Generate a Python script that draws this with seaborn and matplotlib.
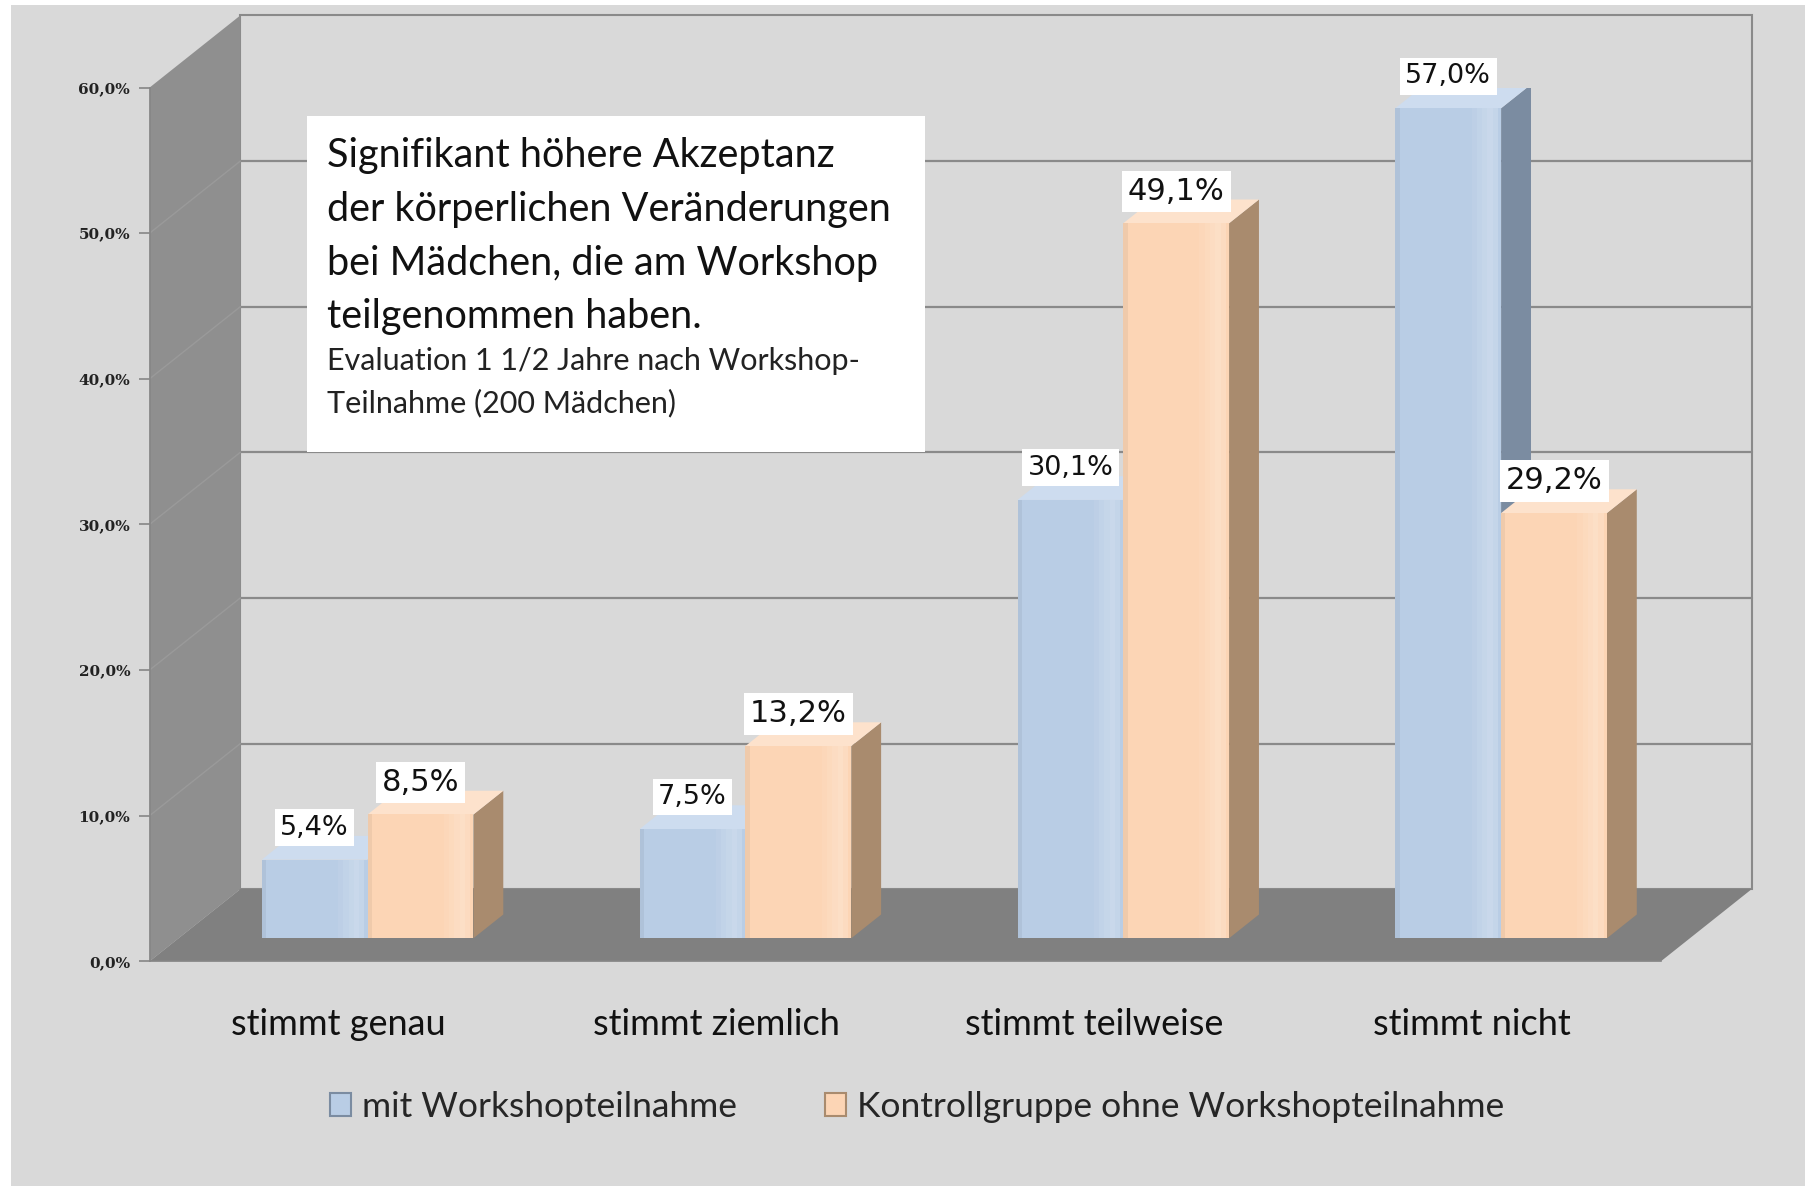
import matplotlib
matplotlib.use("Agg")
import pandas as pd
import matplotlib.pyplot as plt
from matplotlib.patches import Polygon, Rectangle, Patch
import seaborn as sns

# data
categories = ["stimmt genau", "stimmt ziemlich", "stimmt teilweise", "stimmt nicht"]
groups = ["mit Workshopteilnahme", "Kontrollgruppe ohne Workshopteilnahme"]
mit_workshop = [5.4, 7.5, 30.1, 57.0]
kontrollgruppe = [8.5, 13.2, 49.1, 29.2]
y_ticks = [0, 10, 20, 30, 40, 50, 60]
y_ticklabels = ["0,0%", "10,0%", "20,0%", "30,0%", "40,0%", "50,0%", "60,0%"]
note_title = ("Signifikant höhere Akzeptanz\nder körperlichen Veränderungen\n"
              "bei Mädchen, die am Workshop\nteilgenommen haben.")
note_sub = "Evaluation 1 1/2 Jahre nach Workshop-\nTeilnahme (200 Mädchen)"

df = pd.DataFrame({
    "Antwort": categories * 2,
    "Gruppe": [groups[0]] * len(categories) + [groups[1]] * len(categories),
    "Prozent": mit_workshop + kontrollgruppe,
})

sns.set_theme(style="white")
plt.rcParams["font.family"] = ["DejaVu Sans"]
ui_font = ["Lato", "DejaVu Sans"]

bg = "#d9d9d9"
front_col = {groups[0]: "#b9cde5", groups[1]: "#fcd5b5"}
side_col = {groups[0]: "#7b8ca1", groups[1]: "#a98b6e"}
top_col = {groups[0]: "#cddcef", groups[1]: "#fde2cc"}

# 3d look: depth of the room and of the bars (data units)
room_dx, room_dy = 0.24, 4.95
bar_fx, bar_fy = 0.077, 1.58
bar_dx, bar_dy = 0.079, 1.63

fig = plt.figure(figsize=(18.05, 11.86), dpi=100)
fig.patch.set_facecolor("white")
fig.patches.append(Rectangle((0.006, 0), 0.994, 0.996, transform=fig.transFigure,
                             facecolor=bg, edgecolor="none", zorder=-10))
ax = fig.add_axes([0.0829, 0.1895, 0.8373, 0.7367])
ax.set_facecolor("none")

# walls and floor
x0, x1, ytop = -0.5, 3.5, 60
ax.add_patch(Polygon([(x0 + room_dx, room_dy), (x1 + room_dx, room_dy),
                      (x1 + room_dx, ytop + room_dy), (x0 + room_dx, ytop + room_dy)],
                     closed=True, facecolor=bg, edgecolor="#8a8a8a", lw=1.5,
                     clip_on=False, zorder=0))
ax.add_patch(Polygon([(x0, 0), (x0 + room_dx, room_dy), (x0 + room_dx, ytop + room_dy), (x0, ytop)],
                     closed=True, facecolor="#8f8f8f", edgecolor="none", clip_on=False, zorder=0.5))
ax.add_patch(Polygon([(x0, 0), (x1, 0), (x1 + room_dx, room_dy), (x0 + room_dx, room_dy)],
                     closed=True, facecolor="#808080", edgecolor="none", clip_on=False, zorder=0.6))
for v in y_ticks[1:-1]:
    ax.plot([x0 + room_dx, x1 + room_dx], [v + room_dy, v + room_dy], color="#8a8a8a",
            lw=1.6, clip_on=False, zorder=0.4)
    ax.plot([x0, x0 + room_dx], [v, v + room_dy], color="#9a9a9a", lw=1.0,
            clip_on=False, zorder=0.7)

sns.barplot(data=df, x="Antwort", y="Prozent", hue="Gruppe", palette=front_col,
            hue_order=groups, width=0.56, saturation=1, legend=False, ax=ax, zorder=3)

bars = [p for p in ax.patches if isinstance(p, Rectangle) and p.get_height() > 0]
for i, p in enumerate(bars):
    g = groups[i // len(categories)]
    p.set_x(p.get_x() + bar_fx)
    p.set_y(p.get_y() + bar_fy)
    p.set_edgecolor("none")
    bx, by, bw, bh = p.get_x(), p.get_y(), p.get_width(), p.get_height()
    ax.add_patch(Polygon([(bx + bw, by), (bx + bw + bar_dx, by + bar_dy),
                          (bx + bw + bar_dx, by + bh + bar_dy), (bx + bw, by + bh)],
                         closed=True, facecolor=side_col[g], edgecolor="none", zorder=2))
    ax.add_patch(Polygon([(bx, by + bh), (bx + bw, by + bh),
                          (bx + bw + bar_dx, by + bh + bar_dy), (bx + bar_dx, by + bh + bar_dy)],
                         closed=True, facecolor=top_col[g], edgecolor="none", zorder=2))
    # soft highlight towards the right edge of the front face, darker left edge
    for k, a in enumerate([0.06, 0.12, 0.18, 0.24, 0.16]):
        ax.add_patch(Rectangle((bx + bw * (0.72 + 0.05 * k), by), bw * 0.05, bh,
                               facecolor="white", alpha=a, edgecolor="none", zorder=3.1))
    ax.add_patch(Rectangle((bx, by), bw * 0.04, bh, facecolor="black", alpha=0.05,
                           edgecolor="none", zorder=3.1))
    fs = 19.5 if g == groups[0] else 22
    label = f"{bh:.1f}%".replace(".", ",")
    ax.text(bx + bw / 2, by + bh + 2.2, label, ha="center", va="center", fontsize=fs,
            color="#111111", zorder=5,
            bbox=dict(facecolor="white", edgecolor="none", boxstyle="square,pad=0.2"))

# axes
ax.set_xlim(x0, x1)
ax.set_ylim(0, ytop)
ax.set_yticks(y_ticks)
ax.set_yticklabels(y_ticklabels, fontsize=11, fontweight="bold", family="DejaVu Serif", color="#222222")
ax.set_xticks(range(len(categories)))
ax.set_xticklabels(categories, fontsize=26, family=ui_font, color="#111111")
ax.set_xticks([x0 + k for k in range(len(categories) + 1)], minor=True)
ax.tick_params(axis="x", which="major", length=0, pad=34)
ax.tick_params(axis="x", which="minor", length=10, width=1.2, color="#868686", direction="out")
ax.tick_params(axis="y", length=8, width=1.2, color="#868686", direction="out", pad=6, left=True)
ax.set_xlabel("")
ax.set_ylabel("")
for s in ["top", "right"]:
    ax.spines[s].set_visible(False)
for s in ["left", "bottom"]:
    ax.spines[s].set_color("#868686")
    ax.spines[s].set_linewidth(1.2)
    ax.spines[s].set_zorder(4)

# note box
fig.patches.append(Rectangle((307 / 1805, 1 - 452 / 1186), 618 / 1805, 336 / 1186,
                             transform=fig.transFigure, facecolor="white", edgecolor="none", zorder=6))
fig.text(327 / 1805, 1 - 137 / 1186, note_title, ha="left", va="top", fontsize=28.5,
         family=ui_font, color="#111111", linespacing=1.56, zorder=7)
fig.text(327 / 1805, 1 - 347 / 1186, note_sub, ha="left", va="top", fontsize=22,
         family=ui_font, color="#222222", linespacing=1.6, zorder=7)

# legend
handles = [Patch(facecolor=front_col[g], edgecolor=side_col[g], linewidth=1.5) for g in groups]
fig.legend(handles, groups, loc="center", bbox_to_anchor=(0.508, 0.0666), ncol=2,
           frameon=False, prop={"family": ui_font, "size": 25.5}, handlelength=0.6,
           handleheight=0.6, handletextpad=0.3, columnspacing=2.5)

fig.savefig("out.png", dpi=100, facecolor=fig.get_facecolor())
